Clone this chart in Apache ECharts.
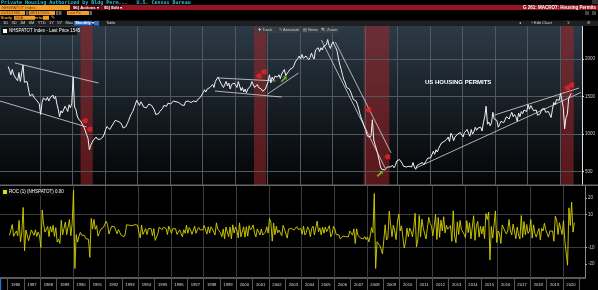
<!DOCTYPE html>
<html><head><meta charset="utf-8">
<script src="https://cdn.jsdelivr.net/npm/echarts@6/dist/echarts.min.js"></script>
<style>html,body{margin:0;padding:0;background:#000;overflow:hidden}#c{width:598px;height:290px}</style>
</head><body><div id="c"></div>
<script>
// ---------- DATA ----------
const startYear = 1986; // monthly series starts Jan 1986
const permits = [
 1900,1850,1790,1860,1800,1760,1760,1710,1820,1700,1680,1920, // 1986
 1690,1700,1700,1600,1510,1520,1530,1490,1500,1450,1440,1400, // 1987
 1260,1420,1480,1470,1450,1490,1440,1480,1470,1520,1470,1500, // 1988
 1400,1330,1230,1310,1280,1300,1370,1340,1300,1390,1350,1410, // 1989
 1760,1360,1330,1240,1200,1190,1160,1120,1090,1040,990,940,   // 1990
 790,850,860,920,930,960,930,920,930,940,960,1000,            // 1991
 1060,1100,1080,1060,1090,1120,1150,1180,1160,1170,1180,1150, // 1992
 1120,1080,1060,1100,1140,1180,1230,1270,1300,1350,1400,1450, // 1993
 1440,1380,1430,1400,1360,1380,1350,1370,1400,1420,1380,1400, // 1994
 1320,1260,1240,1270,1300,1310,1340,1380,1400,1370,1410,1420, // 1995
 1400,1420,1440,1460,1430,1410,1420,1440,1390,1400,1380,1430, // 1996
 1410,1440,1450,1420,1400,1440,1420,1430,1460,1470,1490,1500, // 1997
 1550,1590,1560,1600,1580,1620,1640,1660,1620,1700,1720,1760, // 1998
 1740,1680,1700,1620,1660,1700,1640,1680,1600,1660,1640,1680, // 1999
 1690,1620,1700,1640,1580,1620,1560,1600,1550,1600,1610,1640, // 2000
 1700,1680,1620,1640,1660,1620,1640,1600,1570,1560,1600,1580, // 2001
 1700,1790,1680,1760,1720,1770,1750,1760,1790,1740,1800,1820, // 2002
 1860,1780,1800,1830,1860,1870,1880,1910,1960,1980,2010,2040, // 2003
 2000,2060,2010,1990,2040,2060,1990,2020,2080,2030,2000,2120, // 2004
 2110,2150,2100,2150,2120,2170,2160,2190,2260,2180,2140,2200, // 2005
 2230,2180,2150,2100,2000,1920,1860,1780,1720,1680,1620,1620, // 2006
 1600,1560,1580,1460,1480,1440,1390,1330,1260,1200,1160,1100, // 2007
 1060,990,960,980,970,1190,920,860,800,730,650,560,           // 2008
 530,550,520,500,560,580,560,580,580,550,580,640,             // 2009
 640,660,680,610,570,580,560,570,570,550,560,620,             // 2010
 560,530,580,560,600,610,620,590,600,650,680,700,             // 2011
 680,700,770,730,790,760,810,810,880,870,900,910,             // 2012
 930,960,900,1010,980,910,960,940,1000,1010,1020,1000,        // 2013
 960,1020,1010,1060,1010,970,1060,1000,1030,1090,1050,1080,   // 2014
 1060,1090,1040,1150,1230,1370,1130,1160,1110,1150,1290,1200, // 2015
 1200,1180,1090,1130,1170,1170,1150,1150,1230,1230,1200,1250, // 2016
 1290,1230,1260,1230,1170,1280,1230,1300,1270,1320,1300,1300, // 2017
 1390,1330,1380,1360,1310,1300,1320,1250,1270,1270,1330,1340, // 2018
 1340,1290,1290,1300,1300,1220,1330,1420,1390,1460,1480,1450, // 2019
 1540,1450,1350,1070,1220,1260,1480,1470,1545                 // 2020
];
const yearLabels = ['1986','1987','1988','1989','1990','1991','1992','1993','1994','1995','1996','1997','1998','1999','2000','2001','2002','2003','2004','2005','2006','2007','2008','2009','2010','2011','2012','2013','2014','2015','2016','2017','2018','2019','2020'];
const mainTicks = [500, 1000, 1500, 2000];
const rocTicks = [-20, -10, 10, 20];
const recessions = [[1990.5, 1991.25], [2001.17, 2001.92], [2007.92, 2009.5], [2020.08, 2020.85]];
const trendLines = [
  [[1986.46, 1947], [1991.60, 1680]],
  [[1985.54, 1440], [1990.87, 1093]],
  [[1999.01, 1747], [2002.50, 1707]],
  [[1998.77, 1573], [2002.87, 1493]],
  [[2002.01, 1533], [2003.91, 1813]],
  [[2006.18, 2227], [2009.61, 747]],
  [[2005.32, 2253], [2009.24, 547]],
  [[2011.14, 547], [2021.30, 1555]],
  [[2015.98, 1253], [2021.18, 1613]]
];
const redMarks = [[1990.75, 1177], [1991.05, 1062], [2001.46, 1773], [2001.77, 1831], [2008.2, 1320], [2009.38, 697], [2020.44, 1617], [2020.7, 1653]];
const greenMarks = [[2003.0, 1729], [2008.91, 467]];
const titleText = 'US HOUSING PERMITS';

// ---------- BUILD ----------
const xMin = 1985.54, xMax = 2021.36;
const permitData = permits.map((v, i) => [startYear + (i + 0.5) / 12, v]);
const rocData = [];
for (let i = 1; i < permits.length; i++) rocData.push([startYear + (i + 0.5) / 12, (permits[i] / permits[i - 1] - 1) * 100]);
const lastPrice = permits[permits.length - 1];
const evenYears = yearLabels.map(Number).filter(y => y % 2 === 0 && y > 1986);
const yearBounds = yearLabels.map(Number).concat([2021]);

const gridV = evenYears.map(y => ({xAxis: y}));
const F = 'Liberation Sans';

function T(x, y, s, o) {
  o = o || {};
  return {type: 'text', x: x, y: y, silent: true, z: 50, style: {text: s, fill: o.c || '#ddd', fontSize: o.fs || 4.5, fontFamily: o.ff || F, fontWeight: o.fw || 'normal', align: o.al || 'left', verticalAlign: 'middle'}};
}
function R(x, y, w, h, c, z) { return {type: 'rect', shape: {x: x, y: y, width: w, height: h}, style: {fill: c}, silent: true, z: z || 40}; }

const graphics = [
  R(0, 0, 598, 5, '#000'),
  T(1, 2.6, 'Private Housing Authorized by Bldg Perm...   U.S. Census Bureau', {c: '#27c3d6', fs: 5, ff: 'DejaVu Sans Mono', fw: 'bold'}),
  R(592, 0, 6, 4, '#333'),
  R(0, 5, 598, 5.3, '#961520'),
  R(0, 5, 70, 5.3, '#f0a02a'), T(2, 7.7, 'NHSPATOT Index', {c: '#6a3a00', fs: 4.2}),
  R(70, 5, 31, 5.3, '#5e0b12'), T(73, 7.7, '96) Actions ▾', {c: '#fff', fs: 4.2, fw: 'bold'}),
  R(102, 5, 19, 5.3, '#5e0b12'), T(104, 7.7, '95) Edit ▾', {c: '#fff', fs: 4.2, fw: 'bold'}),
  T(596, 7.7, 'G 261: MACRO7: Housing Permits', {c: '#fff', fs: 4.5, al: 'right', fw: 'bold'}),
  R(0, 10.3, 598, 5, '#000'),
  R(0, 11, 25, 4, '#f0a02a'), T(1, 13, '01/31/1986', {c: '#6a3a00', fs: 3.8}),
  R(26, 11, 2.5, 4, '#666'),
  R(29, 11, 26, 4, '#f0a02a'), T(30, 13, '08/31/2020', {c: '#6a3a00', fs: 3.8}),
  R(56, 11, 2.5, 4, '#666'), R(59, 11, 2.5, 4, '#666'),
  R(67, 11, 22, 4, '#f0a02a'), T(68, 13, 'Last Px', {c: '#6a3a00', fs: 3.8}),
  R(89.5, 11, 2.5, 4, '#666'),
  R(585, 11, 4, 4, '#444'), R(592, 11, 4, 4, '#444'),
  T(0.5, 17.8, 'Study', {c: '#f0a02a', fs: 4.2, fw: 'bold'}),
  R(14, 15.8, 21, 4, '#f0a02a'), T(15, 17.8, 'SMA', {c: '#6a3a00', fs: 3.8}),
  T(32, 17.8, 'Period', {c: '#f0a02a', fs: 4.2, fw: 'bold'}),
  R(43, 15.8, 6, 4, '#f0a02a'),
  T(51, 17.8, '✎', {c: '#bbb', fs: 4.5}),
  R(0, 20.5, 598, 5.5, '#1e1f20'),
  T(3, 23.3, '1D   3D   1M   6M   YTD   1Y   5Y   Max', {c: '#ddd', fs: 4}),
  R(74, 21, 18, 4.5, '#2d6fd6'), T(75.5, 23.3, 'Monthly ▾', {c: '#fff', fs: 4, fw: 'bold'}),
  R(94, 21, 5, 4.5, '#2d6fd6'),
  T(106, 23.3, 'Table', {c: '#ddd', fs: 4}),
  T(519, 23.3, '◂', {c: '#ccc', fs: 4}),
  T(531, 23.3, '⌁ Edit Chart', {c: '#ddd', fs: 4}),
  T(567, 23.3, '⊻', {c: '#ccc', fs: 4}),
  T(587, 23.3, '⚙', {c: '#ccc', fs: 4}),
  // legend main
  R(1, 27, 76, 8, 'rgba(10,10,10,0.85)', 45),
  R(3, 29, 4, 4, '#fff', 46),
  T(9, 31.2, 'NHSPATOT Index - Last Price ' + lastPrice, {c: '#fff', fs: 4.5}),
  // toolbar in chart
  R(256, 27, 21, 6, 'rgba(60,64,68,0.9)', 45), T(258, 30, '✚ Track', {c: '#ccc', fs: 4}),
  R(278, 27, 23, 6, 'rgba(60,64,68,0.9)', 45), T(279, 30, '✎ Annotate', {c: '#ccc', fs: 4}),
  R(302, 27, 17, 6, 'rgba(60,64,68,0.9)', 45), T(303, 30, '▤ News', {c: '#ccc', fs: 4}),
  R(320, 27, 19, 6, 'rgba(60,64,68,0.9)', 45), T(321, 30, '🔍 Zoom', {c: '#ccc', fs: 4}),
  // legend lower
  R(1, 188, 60, 8, 'rgba(10,10,10,0.85)', 45),
  R(3, 190, 4, 4, '#e6e000', 46),
  T(9, 192.2, 'ROC (1) (NHSPATOT) 0.00', {c: '#fff', fs: 4.5}),
  // annotation text
  T(425, 82.7, titleText, {c: '#fff', fs: 6, fw: 'bold'}),
  // panel separator
  R(0, 184.5, 598, 1.6, '#666', 30),
  R(0, 278, 1.2, 12, '#2a6fd0', 30)
];

const chart = echarts.init(document.getElementById('c'), null, {renderer: 'canvas'});
chart.setOption({
  animation: false,
  backgroundColor: '#000',
  graphic: graphics,
  grid: [
    {left: 0, right: 13, top: 26, height: 159, show: true, borderWidth: 0,
     backgroundColor: new echarts.graphic.LinearGradient(0, 0, 0, 1, [{offset: 0, color: '#2c3a47'}, {offset: 0.55, color: '#151b21'}, {offset: 1, color: '#030405'}])},
    {left: 0, right: 13, top: 186, height: 92, show: true, borderWidth: 0, backgroundColor: '#000'}
  ],
  xAxis: [
    {gridIndex: 0, type: 'value', min: xMin, max: xMax, show: false},
    {gridIndex: 1, type: 'value', min: xMin, max: xMax,
     axisLine: {show: true, onZero: false, lineStyle: {color: '#777', width: 1.5}},
     axisTick: {show: true, customValues: yearBounds, length: 12, lineStyle: {color: '#555'}},
     axisLabel: {show: true, customValues: yearLabels.map(y => Number(y) + 0.5), formatter: v => String(Math.floor(v)), fontSize: 4.2, color: '#ddd', margin: 5, fontFamily: F},
     splitLine: {show: false}}
  ],
  yAxis: [
    {gridIndex: 0, type: 'value', position: 'right', min: 320, max: 2440,
     axisLine: {show: true, lineStyle: {color: '#ddd', width: 1}},
     axisTick: {show: true, customValues: mainTicks, length: 2, lineStyle: {color: '#ddd'}},
     axisLabel: {customValues: mainTicks, formatter: v => String(v), fontSize: 4.5, color: '#ccc', margin: 3, fontFamily: F},
     splitLine: {show: false}},
    {gridIndex: 1, type: 'value', position: 'right', min: -28.48, max: 27.27,
     axisLine: {show: true, lineStyle: {color: '#888', width: 1}},
     axisTick: {show: true, customValues: rocTicks, length: 2, lineStyle: {color: '#aaa'}},
     axisLabel: {customValues: rocTicks, formatter: v => String(v), fontSize: 4.5, color: '#ccc', margin: 3, fontFamily: F},
     splitLine: {show: false}}
  ],
  series: [
    {type: 'line', xAxisIndex: 0, yAxisIndex: 0, data: [], silent: true, z: 1,
     markLine: {silent: true, symbol: 'none', animation: false, label: {show: false},
       lineStyle: {color: '#505962', width: 1, type: 'solid'},
       data: gridV.concat(mainTicks.map(v => ({yAxis: v})))},
     markArea: {silent: true, itemStyle: {color: 'rgba(160,38,42,0.55)'},
       data: recessions.map(r => [{xAxis: r[0]}, {xAxis: r[1]}])}},
    {type: 'line', xAxisIndex: 1, yAxisIndex: 1, data: [], silent: true, z: 1,
     markLine: {silent: true, symbol: 'none', animation: false, label: {show: false},
       lineStyle: {color: '#3c3c3c', width: 1, type: 'solid'},
       data: gridV.concat([{yAxis: -10}, {yAxis: 10}])}},
    {type: 'line', name: 'NHSPATOT', xAxisIndex: 0, yAxisIndex: 0, data: permitData, showSymbol: false, z: 5,
     lineStyle: {color: '#f2f2f2', width: 1}, silent: true,
     markLine: {silent: true, symbol: 'none', animation: false,
       lineStyle: {color: '#d8d8d8', width: 0.8, type: 'solid'},
       label: {show: false},
       data: trendLines.map(t => [{coord: t[0]}, {coord: t[1]}]).concat([
         {yAxis: lastPrice, lineStyle: {opacity: 0},
          label: {show: true, position: 'end', formatter: String(lastPrice), backgroundColor: '#fff', color: '#000', fontSize: 4.5, padding: [1, 1, 0, 1], distance: 1, fontFamily: F}}
       ])}},
    {type: 'line', name: 'ROC', xAxisIndex: 1, yAxisIndex: 1, data: rocData, showSymbol: false, z: 5,
     lineStyle: {color: '#d6d200', width: 0.9}, silent: true,
     markLine: {silent: true, symbol: 'none', animation: false,
       data: [{yAxis: 0, lineStyle: {opacity: 0},
         label: {show: true, position: 'end', formatter: '0.00', backgroundColor: '#eee800', color: '#000', fontSize: 4.5, padding: [1, 1, 0, 1], distance: 1, fontFamily: F}}]}},
    {type: 'scatter', xAxisIndex: 0, yAxisIndex: 0, data: redMarks, z: 8, silent: true,
     symbol: 'path://M0,5 L4,0 L10,0 L10,10 L4,10 Z', symbolSize: [6, 5], itemStyle: {color: '#ee2229'}},
    {type: 'scatter', xAxisIndex: 0, yAxisIndex: 0, data: greenMarks, z: 8, silent: true,
     symbol: 'path://M0,8 L6,2 L4,0 L10,0 L10,6 L8,4 L2,10 Z', symbolSize: [6, 6], itemStyle: {color: '#7ed320'}}
  ]
});
</script>
</body></html>
